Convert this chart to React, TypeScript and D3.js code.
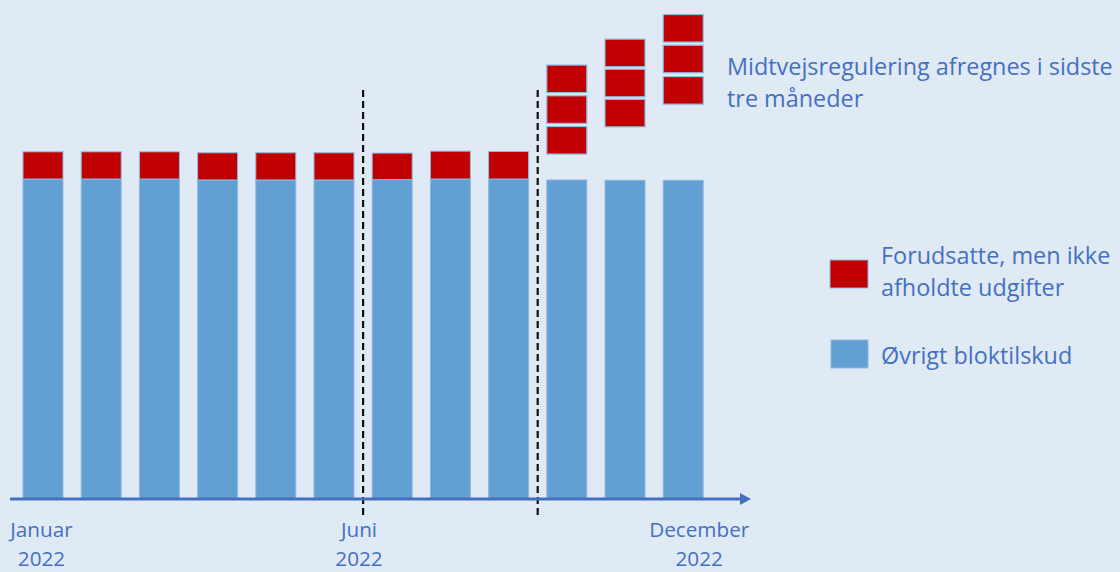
import React from "react";
import * as d3 from "d3";

const months = [1, 2, 3, 4, 5, 6, 7, 8, 9, 10, 11, 12];
const blueValues = [100, 100, 100, 99.7, 99.7, 99.7, 99.8, 100, 100, 99.7, 99.6, 99.6];
const redValues = [8.5, 8.5, 8.5, 8.5, 8.5, 8.5, 8.3, 8.7, 8.6, 0, 0, 0];
const midMonths = [10, 11, 12];
const midBoxBottoms = [
  [107.8, 117.4, 127.0],
  [116.3, 125.7, 135.1],
  [123.4, 133.2, 142.8],
];
const midBoxHeight = 8.6;
const xLabels = [
  { month: 1, lines: ["Januar", "2022"] },
  { month: 6, lines: ["Juni", "2022"] },
  { month: 12, lines: ["December", "2022"] },
];
const dividerPositions = [6.5, 9.5];

const W = 1120;
const H = 572;
const BG = "#dfeaf5";
const BLUE = "#629fd3";
const RED = "#c00000";
const EDGE = "#8fb8e2";
const TEXT = "#4570c2";
const FONT = "'Open Sans', sans-serif";

export default function App() {
  const x = d3
    .scaleBand<number>()
    .domain(months)
    .range([13.9, 712.3])
    .paddingInner(0.313)
    .paddingOuter(0.1565);
  const y = d3.scaleLinear().domain([0, 100]).range([499, 179]);
  const bw = x.bandwidth();
  const step = x.step();
  const xPos = (m: number) => (x(m) as number) + bw / 2;
  const divX = (v: number) => xPos(Math.floor(v)) + step * (v - Math.floor(v));
  const labelOffset = (m: number) => (m === 1 ? -1.5 : m === 12 ? 16 : 25);

  return (
    <div style={{ position: "fixed", left: 0, top: 0 }}>
      <svg width={W} height={H} style={{ display: "block", background: BG }}>
        <rect x={0} y={0} width={W} height={H} fill={BG} />
        {months.map((m, i) => (
          <g key={m}>
            <rect
              x={x(m)}
              y={y(blueValues[i])}
              width={bw}
              height={y(0) - y(blueValues[i])}
              fill={BLUE}
              stroke={EDGE}
              strokeWidth={1}
            />
            {redValues[i] > 0 && (
              <rect
                x={x(m)}
                y={y(blueValues[i] + redValues[i])}
                width={bw}
                height={y(blueValues[i]) - y(blueValues[i] + redValues[i])}
                fill={RED}
                stroke={EDGE}
                strokeWidth={1}
              />
            )}
          </g>
        ))}
        {midMonths.map((m, j) =>
          midBoxBottoms[j].map((b, k) => (
            <rect
              key={`${m}-${k}`}
              x={x(m)}
              y={y(b + midBoxHeight)}
              width={bw}
              height={y(b) - y(b + midBoxHeight)}
              fill={RED}
              stroke={EDGE}
              strokeWidth={1.2}
            />
          ))
        )}
        {dividerPositions.map((v) => (
          <line
            key={v}
            x1={divX(v)}
            x2={divX(v)}
            y1={90}
            y2={518}
            stroke="#111"
            strokeWidth={2.2}
            strokeDasharray="7 4"
          />
        ))}
        <line x1={10} x2={742} y1={499} y2={499} stroke={TEXT} strokeWidth={3} />
        <path d="M740,493 L751,499 L740,505 Z" fill={TEXT} />
        {xLabels.map((l) => (
          <g key={l.month} fontFamily={FONT} fontSize={20.7} fill={TEXT} textAnchor="middle">
            <text x={xPos(l.month) + labelOffset(l.month)} y={537}>
              {l.lines[0]}
            </text>
            <text x={xPos(l.month) + labelOffset(l.month)} y={566}>
              {l.lines[1]}
            </text>
          </g>
        ))}
        <g fontFamily={FONT} fontSize={23.4} fill={TEXT}>
          <text x={727} y={75}>Midtvejsregulering afregnes i sidste</text>
          <text x={727} y={107}>tre måneder</text>
          <text x={881} y={264}>Forudsatte, men ikke</text>
          <text x={881} y={296}>afholdte udgifter</text>
          <text x={881} y={364}>Øvrigt bloktilskud</text>
        </g>
        <rect x={830} y={260} width={38} height={28} fill={RED} stroke={EDGE} strokeWidth={1} />
        <rect x={831} y={340} width={37} height={28} fill={BLUE} stroke={EDGE} strokeWidth={1} />
      </svg>
    </div>
  );
}
